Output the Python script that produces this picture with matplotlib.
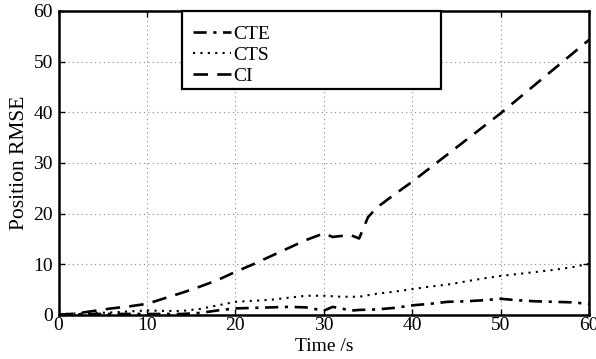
import matplotlib
matplotlib.use("Agg")
import matplotlib.pyplot as plt
from matplotlib.patches import Rectangle

plt.rcParams['font.family'] = ['Liberation Serif', 'DejaVu Serif']

time_s = [0, 2, 4, 6, 8, 10, 12, 14, 16, 18, 20, 22, 24, 26, 28, 30, 31, 32, 33, 34, 35, 36,
          38, 40, 42, 44, 46, 48, 50, 52, 54, 56, 58, 60]
cte = [0.1, 0.1, 0.2, 0.2, 0.2, 0.2, 0.2, 0.2, 0.4, 0.9, 1.3, 1.4, 1.5, 1.6, 1.5, 0.85, 1.6, 1.3,
       0.85, 1.0, 1.05, 1.1, 1.4, 1.9, 2.2, 2.6, 2.7, 2.9, 3.2, 2.9, 2.7, 2.6, 2.5, 2.2]
cts = [0.2, 0.3, 0.4, 0.5, 0.7, 0.9, 0.8, 0.8, 1.2, 1.9, 2.6, 2.8, 3.0, 3.4, 3.8, 3.8, 3.7, 3.6,
       3.6, 3.6, 3.9, 4.2, 4.6, 5.1, 5.6, 6.0, 6.6, 7.2, 7.7, 8.1, 8.5, 8.9, 9.4, 10.1]
ci = [0.0, 0.3, 0.8, 1.3, 1.7, 2.2, 3.3, 4.4, 5.6, 6.9, 8.5, 10.0, 11.6, 13.2, 14.8, 16.1, 15.4,
      15.6, 15.8, 15.1, 19.3, 21.2, 23.8, 26.3, 29.0, 31.7, 34.4, 37.1, 39.8, 42.7, 45.6, 48.5,
      51.4, 54.3]
labels = ['CTE', 'CTS', 'CI']
x_ticks = [0, 10, 20, 30, 40, 50, 60]
y_ticks = [0, 10, 20, 30, 40, 50, 60]

fig = plt.figure(figsize=(5.96, 3.59), dpi=100)
ax = fig.add_axes([0.0982, 0.1226, 0.8901, 0.8468])

lw = 1.9
ax.plot(time_s, cte, color='black', lw=lw, linestyle=(0, (5, 2.5, 1.2, 2.5)), label=labels[0])
ax.plot(time_s, cts, color='black', lw=lw * 0.8, linestyle=(0, (1, 2.5)), label=labels[1])
ax.plot(time_s, ci, color='black', lw=lw, linestyle=(0, (5.5, 3.5)), label=labels[2])

ax.set_xlim(0, 60)
ax.set_ylim(0, 60)
ax.set_xticks(x_ticks)
ax.set_yticks(y_ticks)
ax.tick_params(direction='in', length=4, width=1, top=True, right=True, labelsize=14, pad=1.5)
ax.tick_params(axis='y', pad=4)
ax.grid(True, linestyle=(0, (1, 3)), color='#888888', linewidth=0.8)
for s in ax.spines.values():
    s.set_linewidth(1.8)
    s.set_color('black')

ax.set_xlabel('Time /s', fontsize=14, labelpad=3)
ax.set_ylabel('Position RMSE', fontsize=15.5, labelpad=3)

# legend frame box (drawn separately for exact placement)
ax.add_patch(Rectangle((0.2328, 0.7434), 0.488, 0.2566, transform=ax.transAxes,
                       facecolor='white', edgecolor='black', linewidth=1.6, zorder=4,
                       clip_on=False))
leg = ax.legend(loc='upper left', bbox_to_anchor=(0.2535, 0.952), frameon=False,
                fontsize=14, handlelength=1.95, handletextpad=0.1, labelspacing=0.17,
                borderaxespad=0, borderpad=0)
leg.set_zorder(5)

fig.savefig('out.png', dpi=100)
